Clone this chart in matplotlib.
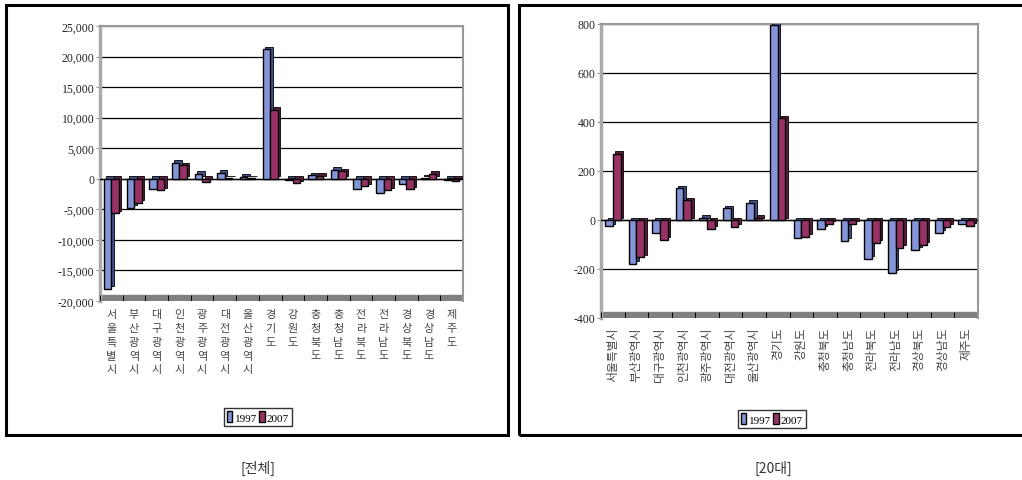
import matplotlib
matplotlib.use("Agg")
import matplotlib.pyplot as plt
import matplotlib.transforms as mtransforms
from matplotlib.patches import Rectangle, Patch
import numpy as np

plt.rcParams['font.family'] = ['Noto Sans CJK KR', 'DejaVu Sans']

# 지역
regions = ['서울특별시', '부산광역시', '대구광역시', '인천광역시', '광주광역시', '대전광역시',
           '울산광역시', '경기도', '강원도', '충청북도', '충청남도', '전라북도', '전라남도',
           '경상북도', '경상남도', '제주도']
years = ['1997', '2007']

# [전체]
total_1997 = [-18000, -4700, -1600, 2600, 800, 1000, 300, 21200, -200, 600, 1500, -1600, -2300, -800, 200, -200]
total_2007 = [-5600, -3900, -1900, 2200, -500, 100, 100, 11300, -700, 500, 1200, -1200, -1900, -1700, 800, -300]
total_ticks = [-20000, -15000, -10000, -5000, 0, 5000, 10000, 15000, 20000, 25000]
total_ticklabels = ['-20,000', '-15,000', '-10,000', '-5,000', '0', '5,000', '10,000', '15,000', '20,000', '25,000']

# [20대]
age20_1997 = [-25, -178, -52, 130, 10, 48, 70, 795, -72, -35, -85, -158, -215, -121, -52, -16]
age20_2007 = [270, -153, -80, 80, -35, -28, 10, 416, -68, -16, -15, -93, -113, -101, -28, -24]
age20_ticks = [-400, -200, 0, 200, 400, 600, 800]
age20_ticklabels = ['-400', '-200', '0', '200', '400', '600', '800']

BLUE = '#8594d6'
RED = '#993366'
W, H = 1022, 481

fig = plt.figure(figsize=(W / 100, H / 100), dpi=100)


def px_axes(x0, y0, x1, y1):
    # pixel box (top-left origin) -> figure axes
    return fig.add_axes([x0 / W, 1 - y1 / H, (x1 - x0) / W, (y1 - y0) / H])


def draw_panel(ax, v1, v2, ticks, ticklabels, stacked):
    n = len(regions)
    x = np.arange(n)
    bw = 0.33
    lo, hi = ticks[0], ticks[-1]
    ax.set_xlim(-0.5, n - 0.5)
    ax.set_ylim(lo, hi)
    for t in ticks[1:]:
        ax.axhline(t, color='black', lw=0.9, zorder=1)
    # floor strip
    span = hi - lo
    ax.axhspan(lo, lo + span * 0.022, color='#808080', zorder=2)
    ax.vlines(np.arange(n + 1) - 0.5, lo, lo + span * 0.022, color='black', lw=0.7, zorder=3)
    # 3D depth: darker copies shifted up/right
    off = mtransforms.offset_copy(ax.transData, fig=fig, x=1.8, y=1.8, units='points')
    for vals, c, dx in [(v1, '#44508a', -bw / 2), (v2, '#5a1d3b', bw / 2)]:
        ax.bar(x + dx, vals, bw, color=c, edgecolor='black', lw=0.6, transform=off, zorder=4)
    ax.bar(x - bw / 2, v1, bw, color=BLUE, edgecolor='black', lw=1.0, zorder=5, label=years[0])
    ax.bar(x + bw / 2, v2, bw, color=RED, edgecolor='black', lw=1.0, zorder=5, label=years[1])
    ax.axhline(0, color='black', lw=1.0, zorder=3)

    for s in ['top', 'right']:
        ax.spines[s].set_color('#999999')
        ax.spines[s].set_linewidth(1.5)
    ax.spines['left'].set_color('#aaaaaa')
    ax.spines['left'].set_linewidth(2.5)
    ax.spines['bottom'].set_visible(False)

    ax.set_yticks(ticks)
    ax.set_yticklabels(ticklabels, family='Liberation Serif', fontsize=8.5, color='#222222')
    ax.tick_params(axis='y', length=3, pad=1, color='#999999')
    ax.set_xticks([])
    for i, name in enumerate(regions):
        if stacked:
            # one character per row, upright
            for k, ch in enumerate(name):
                ax.text(i, lo, ch, ha='center', va='top', fontsize=8, color='#444444',
                        transform=mtransforms.offset_copy(ax.transData, fig=fig, x=0,
                                                          y=-6 - k * 9.9, units='points'))
        else:
            ax.text(i, lo, name, ha='center', va='top', rotation=90, fontsize=8.5,
                    color='#444444',
                    transform=mtransforms.offset_copy(ax.transData, fig=fig, x=0, y=-6, units='points'))


ax1 = px_axes(100, 27, 463, 302)
draw_panel(ax1, total_1997, total_2007, total_ticks, total_ticklabels, stacked=True)

ax2 = px_axes(601, 25, 978, 319)
draw_panel(ax2, age20_1997, age20_2007, age20_ticks, age20_ticklabels, stacked=False)

handles = [Patch(facecolor=BLUE, edgecolor='black', label=years[0]),
           Patch(facecolor=RED, edgecolor='black', label=years[1])]
for cx, cy in [(258, 418), (772, 420)]:
    leg = fig.legend(handles=handles, loc='center', bbox_to_anchor=(cx / W, 1 - cy / H),
                     ncol=2, frameon=True, fancybox=False, handlelength=0.5, handleheight=1.1,
                     handletextpad=0.2, columnspacing=0.2, borderpad=0.3,
                     prop={'family': 'Liberation Serif', 'size': 8})
    leg.get_frame().set_edgecolor('black')
    leg.get_frame().set_linewidth(1.0)

# outer frames
fig.patches.append(Rectangle((6 / W, 1 - 436 / H), (508 - 6) / W, (436 - 6) / H,
                             transform=fig.transFigure, fill=False, edgecolor='black', lw=2.2))
fig.patches.append(Rectangle((519 / W, 1 - 436 / H), (1030 - 519) / W, (436 - 6) / H,
                             transform=fig.transFigure, fill=False, edgecolor='black', lw=2.2))

fig.text(258 / W, 1 - 468 / H, '[전체]', ha='center', va='center', fontsize=10, color='#333333')
fig.text(773 / W, 1 - 468 / H, '[20대]', ha='center', va='center', fontsize=10, color='#333333')

fig.savefig('out.png', dpi=100)
